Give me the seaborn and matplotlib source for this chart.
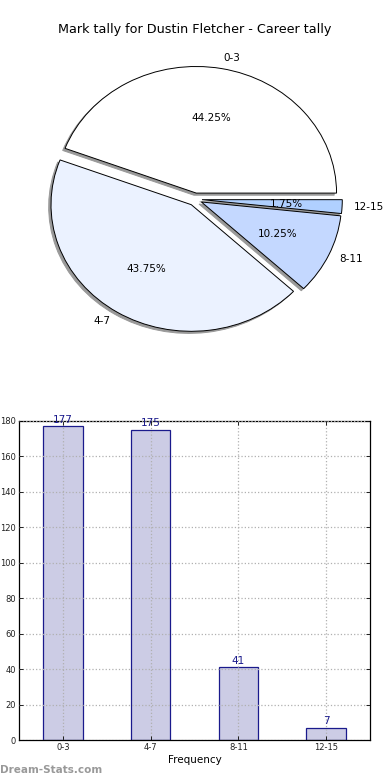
import matplotlib
matplotlib.use("Agg")
import matplotlib.pyplot as plt
import seaborn as sns
import pandas as pd

# data
ranges = ["0-3", "4-7", "8-11", "12-15"]
counts = [177, 175, 41, 7]
pie_colors = ["#FFFFFF", "#EBF2FF", "#C4D8FF", "#B0D0FF"]
title = "Mark tally for Dustin Fletcher - Career tally"

sns.set_theme(style="white")
plt.rcParams["font.family"] = ["DejaVu Sans"]
plt.rcParams["text.color"] = "black"
plt.rcParams["axes.labelcolor"] = "black"
plt.rcParams["xtick.color"] = "black"
plt.rcParams["ytick.color"] = "black"

fig = plt.figure(figsize=(3.9, 7.8), dpi=100)

# pie (top)
ax1 = fig.add_axes([0, 0.538, 1, 0.410])
ax1.pie(counts, labels=ranges, colors=pie_colors, explode=[0.05] * 4,
        autopct="%1.2f%%", startangle=0, labeldistance=1.085,
        shadow=dict(ox=-0.012, oy=-0.012, color="#999999", alpha=1.0),
        wedgeprops=dict(edgecolor="black", linewidth=0.7),
        textprops=dict(fontsize=7.5, color="black"))
ax1.set_aspect("auto")
ax1.set_xlim(-1.39, 1.39)
ax1.set_ylim(-1.272, 1.254)
ax1.axis("off")
fig.text(0.5, 1 - 30 / 780, title, ha="center", va="center", fontsize=9.2)

# bars (bottom)
ax2 = fig.add_axes([19 / 390, 40 / 780, 351 / 390, 319 / 780])
df = pd.DataFrame({"range": ranges, "count": counts})
sns.barplot(data=df, x="range", y="count", ax=ax2, color="#CCCCE5",
            saturation=1, edgecolor="#1a1a8c", linewidth=0.9, width=0.45)
for i, v in enumerate(counts):
    ax2.text(i, v + 1, str(v), ha="center", va="bottom", fontsize=7.5,
             color="#1a1a8c")
ax2.set_xlim(-0.5, 3.5)
ax2.set_ylim(0, 180)
ax2.set_yticks(range(0, 181, 20))
ax2.grid(True, linestyle=":", color="#b0b0b0", linewidth=0.9)
ax2.set_axisbelow(False)
for b in ax2.patches:
    b.set_zorder(0.5)
ax2.tick_params(direction="in", labelsize=6, length=3, width=0.6, pad=2,
                top=True, right=True, bottom=True, left=True,
                labelcolor="#222222")
for s in ax2.spines.values():
    s.set_color("black")
    s.set_linewidth(0.9)
ax2.set_xlabel("Frequency", fontsize=7.5, labelpad=2)
ax2.set_ylabel("")

fig.text(0.0, 1 - 770 / 780, "Dream-Stats.com", ha="left", va="center",
         fontsize=7.5, color="#999999", fontweight="bold")

fig.savefig("out.png", dpi=100)
